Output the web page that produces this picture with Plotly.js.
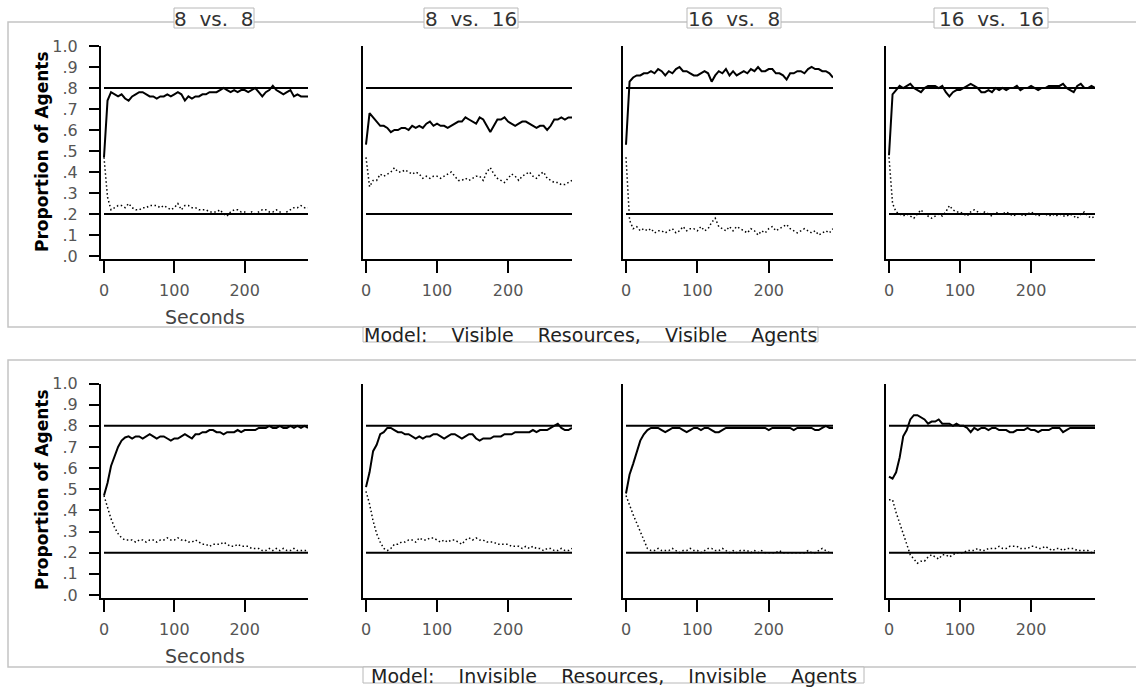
<!DOCTYPE html>
<html><head><meta charset="utf-8">
<script src="https://cdn.plot.ly/plotly-3.0.1.min.js"></script>
<style>html,body{margin:0;padding:0;background:#fff;}#chart{width:1136px;height:691px;}</style>
</head><body><div id="chart"></div>
<script>
// ---------- data ----------
const seconds = [0,5,10,15,20,25,30,35,40,45,
  50,55,60,65,70,75,80,85,90,95,
  100,105,110,115,120,125,130,135,140,145,
  150,155,160,165,170,175,180,185,190,195,
  200,205,210,215,220,225,230,235,240,245,
  250,255,260,265,270,275,280,285,290];

const panelTitles = ["8  vs.  8", "8  vs.  16", "16  vs.  8", "16  vs.  16"];
const modelTitles = ["Model:    Visible    Resources,    Visible    Agents",
                     "Model:    Invisible    Resources,    Invisible    Agents"];
const xTitle = "Seconds";
const yTitle = "Proportion of Agents";
const xTickVals = [0, 100, 200];
const xTickText = ["0", "100", "200"];
const yTickVals = [0, 0.1, 0.2, 0.3, 0.4, 0.5, 0.6, 0.7, 0.8, 0.9, 1.0];
const yTickText = [".0", ".1", ".2", ".3", ".4", ".5", ".6", ".7", ".8", ".9", "1.0"];
const refLevels = [0.8, 0.2];

// Model: Visible Resources, Visible Agents
const vvSolid_8v8 = [0.47,0.74,0.78,0.77,0.76,0.77,0.75,0.74,0.76,0.77,
  0.78,0.78,0.77,0.76,0.76,0.75,0.76,0.76,0.77,0.76,
  0.77,0.78,0.77,0.74,0.76,0.75,0.76,0.76,0.77,0.77,
  0.78,0.78,0.78,0.79,0.80,0.79,0.78,0.79,0.78,0.79,
  0.79,0.78,0.79,0.80,0.78,0.76,0.78,0.79,0.81,0.79,
  0.78,0.77,0.78,0.79,0.76,0.77,0.76,0.76,0.76];
const vvDotted_8v8 = [0.47,0.28,0.22,0.23,0.24,0.24,0.23,0.25,0.23,0.22,
  0.22,0.23,0.23,0.24,0.24,0.24,0.23,0.24,0.23,0.22,
  0.23,0.25,0.22,0.24,0.24,0.23,0.23,0.22,0.22,0.22,
  0.21,0.21,0.21,0.22,0.20,0.19,0.21,0.22,0.22,0.21,
  0.21,0.20,0.21,0.20,0.21,0.22,0.22,0.21,0.21,0.22,
  0.21,0.20,0.21,0.22,0.23,0.23,0.24,0.23,0.23];
const vvSolid_8v16 = [0.53,0.68,0.66,0.64,0.62,0.62,0.61,0.59,0.60,0.60,
  0.61,0.61,0.60,0.62,0.61,0.62,0.61,0.63,0.64,0.62,
  0.63,0.62,0.62,0.61,0.62,0.63,0.64,0.64,0.66,0.65,
  0.64,0.63,0.66,0.65,0.62,0.59,0.62,0.65,0.65,0.66,
  0.64,0.63,0.62,0.63,0.64,0.64,0.63,0.62,0.61,0.62,
  0.62,0.60,0.62,0.65,0.65,0.66,0.65,0.66,0.66];
const vvDotted_8v16 = [0.47,0.33,0.36,0.36,0.39,0.38,0.39,0.40,0.42,0.40,
  0.40,0.41,0.40,0.39,0.40,0.39,0.37,0.38,0.37,0.38,
  0.38,0.37,0.38,0.39,0.40,0.38,0.36,0.36,0.37,0.36,
  0.37,0.38,0.38,0.36,0.40,0.42,0.39,0.37,0.36,0.35,
  0.37,0.39,0.38,0.36,0.38,0.39,0.40,0.38,0.37,0.39,
  0.40,0.37,0.36,0.35,0.35,0.34,0.34,0.35,0.36];
const vvSolid_16v8 = [0.53,0.83,0.85,0.86,0.86,0.87,0.87,0.88,0.87,0.89,
  0.88,0.86,0.88,0.87,0.89,0.90,0.88,0.88,0.87,0.86,
  0.86,0.87,0.88,0.87,0.83,0.86,0.88,0.87,0.89,0.86,
  0.88,0.86,0.87,0.88,0.87,0.89,0.88,0.90,0.88,0.88,
  0.89,0.89,0.87,0.87,0.86,0.84,0.87,0.87,0.88,0.88,
  0.87,0.89,0.90,0.89,0.89,0.88,0.88,0.87,0.85];
const vvDotted_16v8 = [0.47,0.17,0.13,0.14,0.12,0.13,0.12,0.13,0.11,0.12,
  0.12,0.11,0.12,0.13,0.11,0.12,0.14,0.12,0.13,0.13,
  0.12,0.14,0.12,0.13,0.16,0.18,0.14,0.13,0.12,0.14,
  0.12,0.14,0.13,0.12,0.11,0.13,0.12,0.10,0.12,0.11,
  0.13,0.14,0.12,0.13,0.14,0.15,0.13,0.12,0.11,0.12,
  0.13,0.12,0.11,0.12,0.10,0.11,0.12,0.11,0.13];
const vvSolid_16v16 = [0.48,0.77,0.79,0.81,0.80,0.81,0.82,0.80,0.79,0.78,
  0.80,0.81,0.81,0.81,0.80,0.81,0.78,0.76,0.78,0.79,
  0.79,0.80,0.81,0.82,0.81,0.80,0.78,0.78,0.79,0.78,
  0.80,0.79,0.80,0.79,0.80,0.80,0.81,0.79,0.80,0.80,
  0.81,0.80,0.79,0.80,0.80,0.81,0.81,0.81,0.81,0.82,
  0.80,0.79,0.78,0.81,0.82,0.80,0.80,0.81,0.80];
const vvDotted_16v16 = [0.47,0.25,0.21,0.20,0.19,0.20,0.19,0.18,0.20,0.22,
  0.20,0.19,0.18,0.19,0.20,0.19,0.21,0.24,0.22,0.21,
  0.21,0.20,0.19,0.21,0.22,0.21,0.20,0.21,0.20,0.19,
  0.21,0.20,0.20,0.21,0.20,0.19,0.20,0.20,0.19,0.20,
  0.21,0.20,0.19,0.20,0.20,0.19,0.20,0.19,0.20,0.19,
  0.19,0.20,0.19,0.18,0.20,0.21,0.19,0.18,0.19];

// Model: Invisible Resources, Invisible Agents
const iiSolid_8v8 = [0.47,0.53,0.61,0.66,0.70,0.73,0.745,0.75,0.74,0.75,
  0.75,0.74,0.75,0.76,0.75,0.74,0.75,0.75,0.74,0.73,
  0.74,0.74,0.75,0.76,0.75,0.74,0.76,0.76,0.77,0.77,
  0.78,0.78,0.77,0.77,0.76,0.77,0.77,0.77,0.78,0.77,
  0.78,0.78,0.78,0.78,0.79,0.79,0.79,0.80,0.79,0.79,
  0.80,0.79,0.79,0.80,0.79,0.80,0.79,0.80,0.79];
const iiDotted_8v8 = [0.47,0.41,0.36,0.32,0.29,0.27,0.26,0.26,0.26,0.25,
  0.26,0.26,0.25,0.26,0.26,0.25,0.26,0.26,0.27,0.26,
  0.26,0.27,0.26,0.26,0.25,0.25,0.26,0.25,0.24,0.24,
  0.23,0.24,0.24,0.24,0.25,0.24,0.23,0.23,0.24,0.23,
  0.23,0.23,0.22,0.22,0.22,0.21,0.21,0.22,0.21,0.22,
  0.21,0.22,0.21,0.21,0.22,0.21,0.21,0.21,0.21];
const iiSolid_8v16 = [0.51,0.58,0.68,0.71,0.76,0.77,0.79,0.79,0.78,0.77,
  0.77,0.76,0.76,0.75,0.74,0.75,0.74,0.75,0.75,0.76,
  0.76,0.75,0.74,0.75,0.76,0.76,0.75,0.74,0.75,0.76,
  0.76,0.74,0.73,0.74,0.74,0.74,0.75,0.75,0.75,0.76,
  0.76,0.76,0.77,0.77,0.77,0.77,0.77,0.78,0.77,0.78,
  0.78,0.78,0.79,0.80,0.81,0.79,0.78,0.78,0.79];
const iiDotted_8v16 = [0.49,0.43,0.35,0.29,0.25,0.22,0.21,0.22,0.24,0.24,
  0.25,0.25,0.26,0.26,0.25,0.27,0.26,0.26,0.27,0.27,
  0.26,0.25,0.26,0.25,0.26,0.26,0.25,0.24,0.26,0.27,
  0.26,0.27,0.26,0.26,0.25,0.25,0.25,0.24,0.24,0.24,
  0.24,0.23,0.23,0.23,0.22,0.23,0.22,0.23,0.22,0.22,
  0.21,0.22,0.22,0.21,0.21,0.22,0.21,0.21,0.22];
const iiSolid_16v8 = [0.48,0.57,0.62,0.67,0.73,0.76,0.78,0.79,0.79,0.79,
  0.78,0.77,0.78,0.79,0.79,0.79,0.78,0.77,0.78,0.79,
  0.79,0.78,0.79,0.79,0.78,0.77,0.77,0.78,0.79,0.79,
  0.79,0.79,0.79,0.79,0.79,0.79,0.79,0.79,0.79,0.79,
  0.78,0.79,0.79,0.79,0.79,0.79,0.79,0.78,0.79,0.79,
  0.79,0.79,0.79,0.78,0.78,0.79,0.80,0.79,0.79];
const iiDotted_16v8 = [0.47,0.42,0.38,0.34,0.30,0.26,0.22,0.21,0.21,0.22,
  0.21,0.21,0.21,0.22,0.21,0.20,0.21,0.21,0.22,0.21,
  0.21,0.20,0.21,0.22,0.22,0.21,0.21,0.22,0.21,0.20,
  0.21,0.20,0.21,0.21,0.21,0.20,0.21,0.20,0.21,0.20,
  0.20,0.20,0.20,0.21,0.20,0.20,0.20,0.20,0.20,0.20,
  0.20,0.21,0.20,0.20,0.21,0.22,0.21,0.20,0.20];
const iiSolid_16v16 = [0.56,0.55,0.58,0.65,0.75,0.78,0.83,0.85,0.85,0.84,
  0.83,0.81,0.82,0.82,0.83,0.81,0.81,0.81,0.80,0.81,
  0.80,0.80,0.79,0.77,0.79,0.78,0.79,0.79,0.78,0.79,
  0.79,0.78,0.78,0.78,0.77,0.77,0.78,0.78,0.78,0.79,
  0.78,0.78,0.77,0.78,0.78,0.78,0.79,0.79,0.79,0.77,
  0.78,0.79,0.79,0.79,0.79,0.79,0.79,0.79,0.79];
const iiDotted_16v16 = [0.45,0.45,0.39,0.34,0.28,0.23,0.19,0.17,0.15,0.16,
  0.16,0.18,0.19,0.18,0.17,0.19,0.19,0.18,0.19,0.20,
  0.20,0.20,0.21,0.21,0.21,0.22,0.21,0.21,0.22,0.22,
  0.22,0.23,0.22,0.22,0.23,0.23,0.23,0.22,0.22,0.22,
  0.23,0.23,0.22,0.22,0.23,0.22,0.21,0.22,0.22,0.21,
  0.22,0.22,0.22,0.21,0.21,0.21,0.21,0.20,0.21];

const solidSeries = [vvSolid_8v8, vvSolid_8v16, vvSolid_16v8, vvSolid_16v16,
                     iiSolid_8v8, iiSolid_8v16, iiSolid_16v8, iiSolid_16v16];
const dottedSeries = [vvDotted_8v8, vvDotted_8v16, vvDotted_16v8, vvDotted_16v16,
                      iiDotted_8v8, iiDotted_8v16, iiDotted_16v8, iiDotted_16v16];

// ---------- geometry (pixels) ----------
const W = 1136, H = 691;
const FONT = "DejaVu Sans, Verdana, sans-serif";
const panelLeft = [101, 363, 623, 886];
const panelRight = [308, 572, 833, 1095];
const rowTop = [46, 383.5];     // y = 1.0
const rowZero = [256, 595];     // y = 0.0
const rowBase = [259, 598];     // x axis line
const px = x => x / W;
const py = y => 1 - y / H;
const nbsp = s => s.replace(/ /g, "\u00a0");

const traces = [];
const layout = {
  width: W, height: H,
  margin: {l: 0, r: 0, t: 0, b: 0},
  paper_bgcolor: "#fff", plot_bgcolor: "rgba(0,0,0,0)",
  showlegend: false,
  font: {family: FONT, color: "#333"},
  shapes: [], annotations: []
};

// frames (drawn first so label boxes cover them)
const frameTop = [22, 360], frameBottom = [327, 667];
for (let row = 0; row < 2; row++) {
  layout.shapes.push({
    type: "rect", xref: "paper", yref: "paper", layer: "below",
    x0: px(8), x1: px(1140), y0: py(frameBottom[row]), y1: py(frameTop[row]),
    line: {color: "#c4c4c4", width: 1.5}, fillcolor: "rgba(0,0,0,0)"
  });
}

for (let row = 0; row < 2; row++) {
  for (let col = 0; col < 4; col++) {
    const k = row * 4 + col;
    const n = k + 1;
    const sfx = n > 1 ? String(n) : "";
    const xr = panelLeft[col], xe = panelRight[col];
    const scale = (xe - (xr + 3)) / 290;
    const xRange = [-3 / scale, 290];
    const unit = rowZero[row] - rowTop[row];
    const yRange = [-(rowBase[row] - rowZero[row]) / unit, 1.0];

    layout["xaxis" + sfx] = {
      domain: [px(xr), px(xe)], anchor: "y" + sfx, range: xRange,
      showgrid: false, zeroline: false, showline: true, linecolor: "#000", linewidth: 2,
      ticks: "outside", ticklen: 12, tickwidth: 2, tickcolor: "#000",
      tickvals: xTickVals, ticktext: xTickText,
      tickfont: {family: FONT, size: 16, color: "#555"}, ticklabelstandoff: 4,
      fixedrange: true
    };
    const ya = {
      domain: [py(rowBase[row]), py(rowTop[row])], anchor: "x" + sfx, range: yRange,
      showgrid: false, zeroline: false, showline: true, linecolor: "#000", linewidth: 2,
      fixedrange: true
    };
    if (col === 0) {
      Object.assign(ya, {ticks: "outside", ticklen: 10, tickwidth: 2, tickcolor: "#000",
        tickvals: yTickVals, ticktext: yTickText, showticklabels: true,
        tickfont: {family: FONT, size: 16, color: "#555"}, ticklabelstandoff: 8});
    } else {
      Object.assign(ya, {ticks: "", showticklabels: false});
    }
    layout["yaxis" + sfx] = ya;

    refLevels.forEach(v => layout.shapes.push({
      type: "line", xref: "x" + sfx, yref: "y" + sfx,
      x0: 0, x1: 290, y0: v, y1: v, line: {color: "#000", width: 2}
    }));

    traces.push({
      type: "scatter", mode: "lines", x: seconds, y: solidSeries[k],
      xaxis: "x" + sfx, yaxis: "y" + sfx,
      line: {color: "#000", width: 2}, hoverinfo: "skip"
    });
    traces.push({
      type: "scatter", mode: "lines", x: seconds, y: dottedSeries[k],
      xaxis: "x" + sfx, yaxis: "y" + sfx,
      line: {color: "#000", width: 1.5, dash: "1.5px,2.5px"}, hoverinfo: "skip"
    });
  }
}

// label boxes (white, thin grey border) over the frame lines
function box(x0, x1, y0, y1) {
  layout.shapes.push({
    type: "rect", xref: "paper", yref: "paper",
    x0: px(x0), x1: px(x1), y0: py(y1), y1: py(y0),
    line: {color: "#b8b8b8", width: 1}, fillcolor: "#fff"
  });
}

// panel titles
const titleBoxes = [[174, 254], [424, 518], [687, 781], [934, 1048]];
panelTitles.forEach((t, i) => {
  const [a, b] = titleBoxes[i];
  box(a, b, 8, 28);
  layout.annotations.push({
    xref: "paper", yref: "paper", x: px((a + b) / 2), y: py(19),
    xanchor: "center", yanchor: "middle", showarrow: false,
    text: nbsp(t), font: {family: FONT, size: 20, color: "#333"}
  });
});

// model titles
const modelBoxes = [[363, 818, 327, 342], [363, 864, 667, 683]];
modelTitles.forEach((t, i) => {
  const [a, b, c, d] = modelBoxes[i];
  box(a, b, c, d);
  layout.annotations.push({
    xref: "paper", yref: "paper", x: px((a + b) / 2), y: py((c + d) / 2 + 0.5),
    xanchor: "center", yanchor: "middle", showarrow: false,
    text: nbsp(t), font: {family: FONT, size: 19, color: "#222"}
  });
});

// axis titles
const secondsY = [317, 656], propY = [152, 490];
for (let row = 0; row < 2; row++) {
  layout.annotations.push({
    xref: "paper", yref: "paper", x: px(205), y: py(secondsY[row]),
    xanchor: "center", yanchor: "middle", showarrow: false,
    text: xTitle, font: {family: FONT, size: 19, color: "#444"}
  });
  layout.annotations.push({
    xref: "paper", yref: "paper", x: px(42), y: py(propY[row]),
    xanchor: "center", yanchor: "middle", showarrow: false, textangle: -90,
    text: "<b>" + yTitle + "</b>", font: {family: FONT, size: 17, color: "#000"}
  });
}

Plotly.newPlot("chart", traces, layout, {staticPlot: true, displayModeBar: false});
</script>
</body></html>
